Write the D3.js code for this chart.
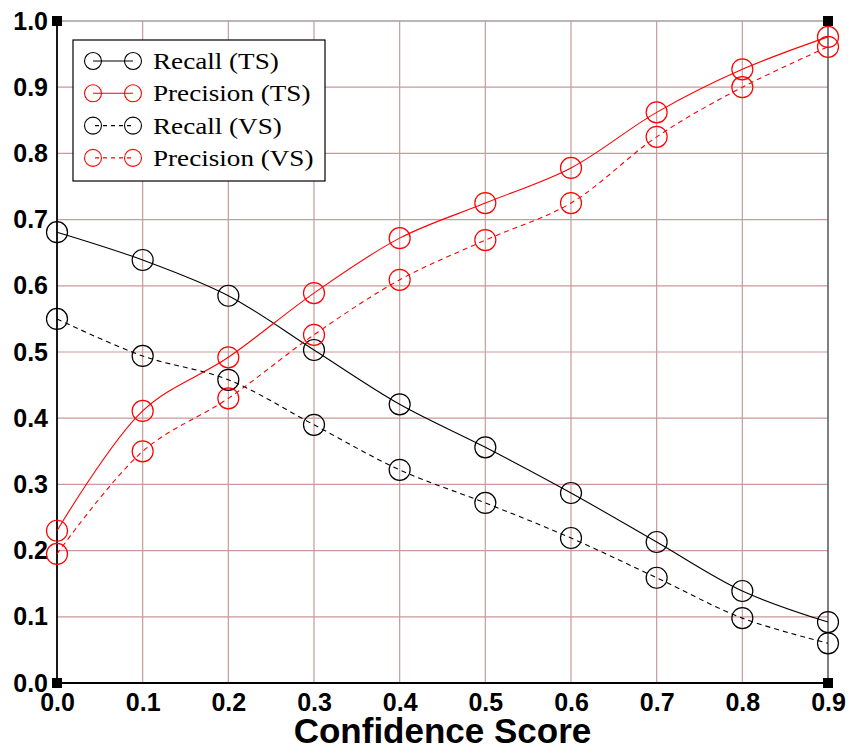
<!DOCTYPE html>
<html>
<head>
<meta charset="utf-8">
<script src="https://cdn.jsdelivr.net/npm/d3@7/dist/d3.min.js"></script>
<style>
  body { margin: 0; background: #fff; }
  svg { display: block; }
</style>
</head>
<body>
<div id="chart"></div>
<script>
// data
const scores = [0.0, 0.1, 0.2, 0.3, 0.4, 0.5, 0.6, 0.7, 0.8, 0.9];
const recallTS = [0.681, 0.639, 0.585, 0.503, 0.421, 0.356, 0.287, 0.213, 0.139, 0.092];
const precisionTS = [0.23, 0.411, 0.492, 0.589, 0.672, 0.725, 0.778, 0.862, 0.927, 0.976];
const recallVS = [0.55, 0.494, 0.458, 0.39, 0.322, 0.272, 0.219, 0.159, 0.098, 0.06];
const precisionVS = [0.195, 0.35, 0.43, 0.526, 0.609, 0.669, 0.725, 0.825, 0.9, 0.961];
const xTicks = [0.0, 0.1, 0.2, 0.3, 0.4, 0.5, 0.6, 0.7, 0.8, 0.9];
const yTicks = [0.0, 0.1, 0.2, 0.3, 0.4, 0.5, 0.6, 0.7, 0.8, 0.9, 1.0];

const series = [
	{ name: 'Recall (TS)', values: recallTS, color: '#000', dash: null },
	{ name: 'Precision (TS)', values: precisionTS, color: '#ff0000', dash: null },
	{ name: 'Recall (VS)', values: recallVS, color: '#000', dash: '5,4' },
	{ name: 'Precision (VS)', values: precisionVS, color: '#ff0000', dash: '5,4' }
];

const W = 848, H = 750;
const m = { top: 21, right: 20, bottom: 67, left: 57 };
const width = W - m.left - m.right,
	height = H - m.top - m.bottom;

const x = d3.scaleLinear().domain([0, 0.9]).range([0, width]);
const y = d3.scaleLinear().domain([0, 1]).range([height, 0]);

const svg = d3.select('#chart').append('svg')
	.attr('width', W)
	.attr('height', H);

const g = svg.append('g')
	.attr('transform', `translate(${m.left},${m.top})`);

// grid
g.append('g').selectAll('line')
	.data(xTicks.slice(1, -1))
	.enter().append('line')
	.attr('x1', d => x(d)).attr('x2', d => x(d))
	.attr('y1', 0).attr('y2', height)
	.attr('stroke', '#c99a9a').attr('stroke-width', 1.2);

g.append('g').selectAll('line')
	.data(yTicks.slice(1, -1))
	.enter().append('line')
	.attr('x1', 0).attr('x2', width)
	.attr('y1', d => y(d)).attr('y2', d => y(d))
	.attr('stroke', '#c99a9a').attr('stroke-width', 1.2);

// frame
g.append('line').attr('x1', 0).attr('x2', width).attr('y1', 0).attr('y2', 0)
	.attr('stroke', '#a0a0a0').attr('stroke-width', 1.5);
g.append('line').attr('x1', width).attr('x2', width).attr('y1', 0).attr('y2', height)
	.attr('stroke', '#555').attr('stroke-width', 1.5);
g.append('line').attr('x1', 0).attr('x2', 0).attr('y1', 0).attr('y2', height)
	.attr('stroke', '#000').attr('stroke-width', 1.8);
g.append('line').attr('x1', 0).attr('x2', width).attr('y1', height).attr('y2', height)
	.attr('stroke', '#000').attr('stroke-width', 1.8);

// corner squares
const corners = [[0, 0], [0.9, 0], [0, 1], [0.9, 1]];
g.append('g').selectAll('rect')
	.data(corners)
	.enter().append('rect')
	.attr('x', d => x(d[0]) - 5)
	.attr('y', d => y(d[1]) - 5)
	.attr('width', 10).attr('height', 10)
	.attr('fill', '#000');

// axes
const xAxis = d3.axisBottom(x).tickValues(xTicks).tickFormat(d3.format('.1f')).tickSize(0).tickPadding(10);
const yAxis = d3.axisLeft(y).tickValues(yTicks).tickFormat(d3.format('.1f')).tickSize(0).tickPadding(9);

g.append('g')
	.attr('transform', `translate(0,${height})`)
	.call(xAxis)
	.call(a => a.select('.domain').remove())
	.selectAll('text')
	.attr('font-family', '"Liberation Sans", Arial, sans-serif')
	.attr('font-weight', 'bold')
	.attr('font-size', 25)
	.attr('fill', '#000');

g.append('g')
	.call(yAxis)
	.call(a => a.select('.domain').remove())
	.selectAll('text')
	.attr('font-family', '"Liberation Sans", Arial, sans-serif')
	.attr('font-weight', 'bold')
	.attr('font-size', 25)
	.attr('fill', '#000');

svg.append('text')
	.attr('x', m.left + width / 2)
	.attr('y', 743)
	.attr('text-anchor', 'middle')
	.attr('font-family', '"Liberation Sans", Arial, sans-serif')
	.attr('font-weight', 'bold')
	.attr('font-size', 35)
	.text('Confidence Score');

// lines
const line = d3.line()
	.curve(d3.curveCatmullRom.alpha(0.5))
	.x((d, i) => x(scores[i]))
	.y(d => y(d));

const sg = g.selectAll('.series')
	.data(series)
	.enter().append('g')
	.attr('class', 'series');

sg.append('path')
	.attr('d', d => line(d.values))
	.attr('fill', 'none')
	.attr('stroke', d => d.color)
	.attr('stroke-width', 1.1)
	.attr('stroke-dasharray', d => d.dash);

sg.selectAll('circle')
	.data(d => d.values.map((v, i) => ({ v, i, color: d.color })))
	.enter().append('circle')
	.attr('cx', d => x(scores[d.i]))
	.attr('cy', d => y(d.v))
	.attr('r', 10.5)
	.attr('fill', 'none')
	.attr('stroke', d => d.color)
	.attr('stroke-width', 1.2);

// legend
const lg = svg.append('g').attr('transform', 'translate(73,40)');
lg.append('rect')
	.attr('width', 252).attr('height', 141)
	.attr('fill', '#fff')
	.attr('stroke', '#000').attr('stroke-width', 1.2);

const item = lg.selectAll('.item')
	.data(series)
	.enter().append('g')
	.attr('class', 'item')
	.attr('transform', (d, i) => `translate(0,${21 + i * 32.3})`);

item.append('line')
	.attr('x1', 20).attr('x2', 60)
	.attr('stroke', d => d.color)
	.attr('stroke-width', 1.1)
	.attr('stroke-dasharray', d => d.dash ? '4,4' : null)
	.attr('stroke-dashoffset', d => d.dash ? -2 : null);

item.selectAll('circle')
	.data(d => [20, 60].map(cx => ({ cx, color: d.color })))
	.enter().append('circle')
	.attr('cx', d => d.cx)
	.attr('r', 8.5)
	.attr('fill', 'none')
	.attr('stroke', d => d.color)
	.attr('stroke-width', 1.1);

item.append('text')
	.attr('transform', 'translate(80,8) scale(1.18,1)')
	.attr('font-family', '"Liberation Serif", "Times New Roman", serif')
	.attr('font-size', 23)
	.attr('fill', '#000')
	.text(d => d.name);
</script>
</body>
</html>
